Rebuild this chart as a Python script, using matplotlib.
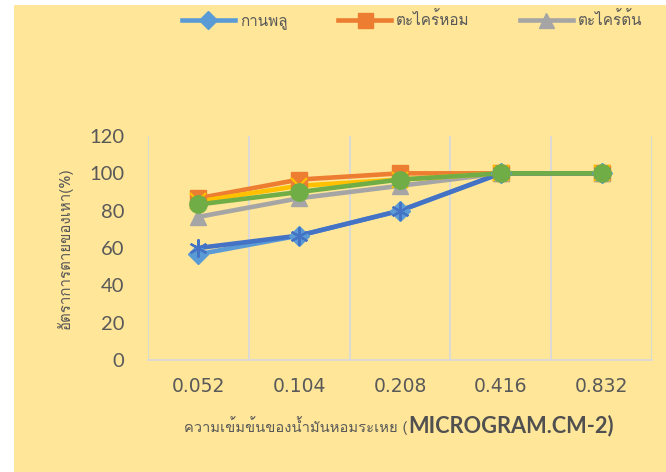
import matplotlib
matplotlib.use("Agg")
import matplotlib.pyplot as plt
from matplotlib import font_manager
from matplotlib.ft2font import FT2Font
from matplotlib.lines import Line2D
from matplotlib.patches import Rectangle
import numpy as np

# ---- data -------------------------------------------------------------
concentrations = ["0.052", "0.104", "0.208", "0.416", "0.832"]

series_names = ["กานพลู", "ตะไคร้หอม", "ตะไคร้ต้น", "ชุด 4", "ชุด 5", "ชุด 6"]
clove       = [56.67, 66.67, 80.00, 100, 100]
citronella  = [86.67, 96.67, 100.0, 100, 100]
lemongrass  = [76.67, 86.67, 93.33, 100, 100]
series4     = [85.00, 93.33, 96.67, 100, 100]
series5     = [60.00, 66.67, 80.00, 100, 100]
series6     = [83.33, 90.00, 96.67, 100, 100]

y_ticks = [0, 20, 40, 60, 80, 100, 120]
y_label = "อัตราการตายของเหา(%)"
x_label_thai = "ความเข้มข้นของน้ำมันหอมระเหย ("
x_label_unit = "MICROGRAM.CM-2)"
legend_count = 3

# ---- fonts --------------------------------------------------------------
def family_with(ch, fallback="DejaVu Sans"):
    for f in font_manager.fontManager.ttflist:
        try:
            if ord(ch) in FT2Font(f.fname).get_charmap():
                return f.name
        except Exception:
            continue
    return fallback

thai_family = family_with("ก")
latin_family = "Lato"
text_fonts = [thai_family, latin_family, "DejaVu Sans"]
plt.rcParams["font.family"] = [latin_family, thai_family, "DejaVu Sans"]

# ---- styling ------------------------------------------------------------
colors = ["#5B9BD5", "#ED7D31", "#A5A5A5", "#FFC000", "#4472C4", "#70AD47"]
markers = ["D", "s", "^", "x", (6, 2, 0), "o"]
msizes = [10, 12, 12, 12, 13, 12.5]
medge = [1, 1, 1, 1.6, 1.6, 1]
bg = "#FFE699"
text_col = "#595959"
grid_col = "#D9D9D9"

W, H = 666, 472
fig = plt.figure(figsize=(W / 100, H / 100), dpi=100)
fig.patch.set_facecolor("white")
fig.add_artist(Rectangle((14 / W, 0), 1 - 14 / W, 1 - 5 / H,
                         transform=fig.transFigure, facecolor=bg,
                         edgecolor="none", zorder=-10))

ax = fig.add_axes([148 / W, (H - 360) / H, (652 - 148) / W, (360 - 136) / H])
ax.set_facecolor("none")

data = [clove, citronella, lemongrass, series4, series5, series6]
x = np.arange(len(concentrations))

# lines first, then markers on top
for vals, c in zip(data, colors):
    ax.plot(x, vals, color=c, lw=3.3, solid_capstyle="round",
            solid_joinstyle="round", zorder=2)
for vals, c, m, ms, me in zip(data, colors, markers, msizes, medge):
    ax.plot(x, vals, linestyle="none", marker=m, markersize=ms,
            markerfacecolor=c, markeredgecolor=c, markeredgewidth=me, zorder=3)

ax.set_xlim(-0.5, len(concentrations) - 0.5)
ax.set_ylim(0, 120)
ax.set_yticks(y_ticks)
ax.set_yticklabels([str(v) for v in y_ticks])
ax.set_xticks(x)
ax.set_xticklabels(concentrations)
ax.set_xticks(np.arange(-0.5, len(concentrations)), minor=True)
ax.grid(axis="x", which="minor", color=grid_col, lw=1.3)
ax.grid(axis="x", which="major", visible=False)
ax.tick_params(axis="both", which="both", length=0)
ax.tick_params(axis="y", labelsize=14.5, labelcolor=text_col, pad=17)
ax.tick_params(axis="x", labelsize=13.5, labelcolor=text_col, pad=12)
for lab in ax.get_xticklabels():
    lab.set_family(["DejaVu Sans"])
for s in ["top", "right", "left"]:
    ax.spines[s].set_visible(False)
ax.spines["bottom"].set_color(grid_col)
ax.spines["bottom"].set_linewidth(1.3)

# y axis title
fig.text(65 / W, 1 - 248 / H, y_label, rotation=90, ha="center", va="center",
         fontsize=10.8, color=text_col, family=text_fonts)

# x axis title in two styles
split_x = 408 / W
ty = 1 - 426 / H
fig.text(split_x, ty, x_label_thai, ha="right", va="center", fontsize=10.6,
         color=text_col, family=text_fonts)
fig.text(split_x, ty, x_label_unit, ha="left", va="center", fontsize=15.7,
         fontweight="bold", color="#505050", family=[latin_family])

# legend with the first series only
handles = [Line2D([0], [0], color=colors[i], lw=3.3, marker=markers[i],
                  markersize=msizes[i] * 0.9, markerfacecolor=colors[i],
                  markeredgecolor=colors[i])
           for i in range(legend_count)]
fig.legend(handles, series_names[:legend_count], loc="center",
           bbox_to_anchor=(412 / W, 1 - 20 / H), ncol=legend_count,
           frameon=False, handlelength=3.5, handletextpad=0.3,
           columnspacing=3.3,
           prop={"family": text_fonts, "size": 11}, labelcolor=text_col)

fig.savefig("out.png", dpi=100, facecolor=fig.get_facecolor())
